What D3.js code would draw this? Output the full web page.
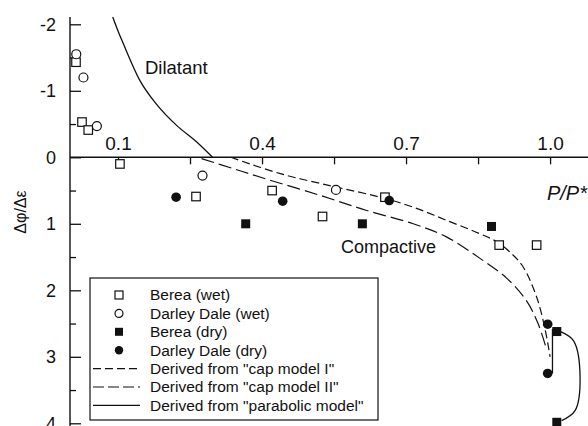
<!DOCTYPE html>
<html>
<head>
<meta charset="utf-8">
<script src="https://cdn.jsdelivr.net/npm/d3@7"></script>
<style>
  body { margin: 0; background: #fff; }
  svg { font-family: "Liberation Sans", Arial, Helvetica, sans-serif; }
</style>
</head>
<body>
<svg width="588" height="426"></svg>
<script>
// data: [P/P*, dphi/deps]
var bereaWet = [[0.0125,-1.43],[0.025,-0.53],[0.038,-0.41],[0.104,0.10],[0.2625,0.59],
                [0.421,0.50],[0.526,0.89],[0.656,0.60],[0.894,1.32],[0.972,1.32]];
var darleyWet = [[0.013,-1.55],[0.028,-1.20],[0.056,-0.47],[0.276,0.275],[0.554,0.49]];
var bereaDry = [[0.366,1.00],[0.609,1.00],[0.878,1.04],[1.014,2.62],[1.014,3.985]];
var darleyDry = [[0.221,0.60],[0.443,0.66],[0.665,0.65],[0.995,2.51],[0.995,3.25]];

var capModel1 = [[0.335,0],[0.44,0.25],[0.55,0.44],[0.646,0.6],[0.715,0.75],[0.785,0.95],
                 [0.854,1.15],[0.889,1.27],[0.92,1.45],[0.944,1.65],[0.972,2.1],[0.99,2.6],[1.0,3.0]];
var capModel2 = [[0.274,0.02],[0.34,0.17],[0.41,0.33],[0.52,0.57],[0.618,0.8],[0.715,1.0],
                 [0.785,1.2],[0.854,1.52],[0.91,1.82],[0.951,2.16],[0.975,2.5],[0.993,2.9]];
var parabolic = [[0.089,-2.11],[0.1,-1.9],[0.111,-1.71],[0.146,-1.15],[0.18,-0.80],
                 [0.222,-0.48],[0.264,-0.23],[0.297,0]];
// connectors drawn near P/P* = 1
var dryLink = [[1.005,2.58],[1.005,3.25]];
var bracket = [[1.022,2.62],[1.049,2.76],[1.0625,3.31],[1.052,3.81],[1.024,3.96]];

var xMajor = [0.1, 0.4, 0.7, 1.0];
var xMinor = [0.25, 0.55, 0.85];
var yMajor = [-2, -1, 0, 1, 2, 3, 4];
var yMinor = [-1.5, -0.5, 0.5, 1.5, 2.5, 3.5];

var legendItems = [
  {label: "Berea (wet)", type: "sq"},
  {label: "Darley Dale (wet)", type: "ci"},
  {label: "Berea (dry)", type: "fsq"},
  {label: "Darley Dale (dry)", type: "fci"},
  {label: "Derived from \"cap model I\"", type: "d1"},
  {label: "Derived from \"cap model II\"", type: "d2"},
  {label: "Derived from \"parabolic model\"", type: "solid"}
];

var svg = d3.select("svg");
var ink = "#111";

var x = d3.scaleLinear().domain([0, 1.079]).range([70, 588]);
var y = d3.scaleLinear().domain([-2, 4]).range([24.3, 423.3]);

// axes
var gx = svg.append("g").attr("transform", "translate(0," + y(0) + ")");
gx.call(d3.axisTop(x).tickValues(xMajor).tickFormat(d3.format(".1f")).tickSizeInner(-7).tickSizeOuter(0).tickPadding(7));
gx.selectAll(".tick text").attr("font-size", 19).attr("fill", ink).attr("font-family", null);
gx.append("g").call(d3.axisTop(x).tickValues(xMinor).tickFormat("").tickSizeInner(-7).tickSizeOuter(0));
gx.selectAll(".domain").remove();
gx.append("line").attr("x1", x(0)).attr("x2", 588).attr("stroke", ink).attr("stroke-width", 1.4);

var gy = svg.append("g").attr("transform", "translate(" + x(0) + ",0)");
gy.call(d3.axisLeft(y).tickValues(yMajor).tickFormat(function(d){ return d < 0 ? "-" + Math.abs(d) : d; })
  .tickSizeInner(-11).tickSizeOuter(0).tickPadding(14));
gy.selectAll(".tick text").attr("font-size", 18).attr("fill", ink).attr("font-family", null);
gy.append("g").call(d3.axisLeft(y).tickValues(yMinor).tickFormat("").tickSizeInner(-6).tickSizeOuter(0));
gy.selectAll(".domain").remove();
gy.append("line").attr("y1", y(-2.11)).attr("y2", 426).attr("stroke", ink).attr("stroke-width", 1.4);

svg.selectAll(".tick line").attr("stroke", ink).attr("stroke-width", 1.3);

// curves
var line = d3.line().x(function(d){ return x(d[0]); }).y(function(d){ return y(d[1]); });
svg.append("path").attr("d", line.curve(d3.curveMonotoneX)(parabolic))
   .attr("fill", "none").attr("stroke", ink).attr("stroke-width", 1.3);
svg.append("path").attr("d", line.curve(d3.curveCatmullRom)(capModel1))
   .attr("fill", "none").attr("stroke", ink).attr("stroke-width", 1.2).attr("stroke-dasharray", "8,4");
svg.append("path").attr("d", line.curve(d3.curveCatmullRom)(capModel2))
   .attr("fill", "none").attr("stroke", ink).attr("stroke-width", 1.2).attr("stroke-dasharray", "13,5");
svg.append("path").attr("d", line.curve(d3.curveLinear)(dryLink))
   .attr("fill", "none").attr("stroke", ink).attr("stroke-width", 1.3);
svg.append("path").attr("d", line.curve(d3.curveCatmullRom)(bracket))
   .attr("fill", "none").attr("stroke", ink).attr("stroke-width", 1.3);

// points
function squares(data, filled, s) {
  svg.append("g").selectAll("rect").data(data).enter().append("rect")
    .attr("x", function(d){ return x(d[0]) - s/2; })
    .attr("y", function(d){ return y(d[1]) - s/2; })
    .attr("width", s).attr("height", s)
    .attr("fill", filled ? ink : "#fff")
    .attr("stroke", ink).attr("stroke-width", filled ? 0 : 1.2);
}
function circles(data, filled, r) {
  svg.append("g").selectAll("circle").data(data).enter().append("circle")
    .attr("cx", function(d){ return x(d[0]); })
    .attr("cy", function(d){ return y(d[1]); })
    .attr("r", r)
    .attr("fill", filled ? ink : "#fff")
    .attr("stroke", ink).attr("stroke-width", filled ? 0 : 1.2);
}
squares(bereaWet, false, 8.5);
circles(darleyWet, false, 4.5);
squares(bereaDry, true, 9);
circles(darleyDry, true, 4.8);

// labels
svg.append("text").attr("x", 145).attr("y", 74).attr("font-size", 18.5).attr("fill", ink).text("Dilatant");
svg.append("text").attr("x", 341).attr("y", 253).attr("font-size", 18).attr("fill", ink).text("Compactive");
svg.append("text").attr("x", 587).attr("y", 200).attr("text-anchor", "end").attr("font-size", 20)
   .attr("font-style", "italic").attr("fill", ink).text("P/P*");
svg.append("text").attr("transform", "translate(26,212) rotate(-90)").attr("text-anchor", "middle")
   .attr("font-size", 16).attr("fill", ink).text("Δφ/Δε");

// legend
var lg = svg.append("g");
lg.append("rect").attr("x", 90).attr("y", 278).attr("width", 288).attr("height", 142)
  .attr("fill", "#fff").attr("stroke", ink).attr("stroke-width", 1.2);
var rows = lg.selectAll("g.row").data(legendItems).enter().append("g")
  .attr("transform", function(d, i){ return "translate(0," + (295 + i * 18.4) + ")"; });
rows.append("text").attr("x", 150).attr("dy", "0.35em").attr("font-size", 15.5).attr("fill", ink)
  .text(function(d){ return d.label; });
rows.each(function(d){
  var g = d3.select(this);
  if (d.type === "sq" || d.type === "fsq") {
    g.append("rect").attr("x", 115).attr("y", -4).attr("width", 8).attr("height", 8)
      .attr("fill", d.type === "fsq" ? ink : "#fff").attr("stroke", ink)
      .attr("stroke-width", d.type === "fsq" ? 0 : 1.2);
  } else if (d.type === "ci" || d.type === "fci") {
    g.append("circle").attr("cx", 119).attr("r", d.type === "fci" ? 4.2 : 4)
      .attr("fill", d.type === "fci" ? ink : "#fff").attr("stroke", ink)
      .attr("stroke-width", d.type === "fci" ? 0 : 1.2);
  } else {
    g.append("line").attr("x1", 93).attr("x2", 140).attr("stroke", ink).attr("stroke-width", 1.2)
      .attr("stroke-dasharray", d.type === "d1" ? "8,4" : d.type === "d2" ? "11,4" : null);
  }
});
</script>
</body>
</html>
